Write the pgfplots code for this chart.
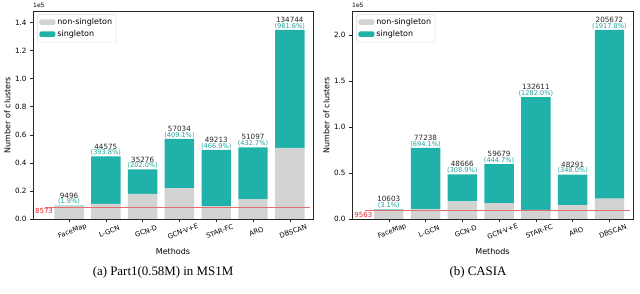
\documentclass[border=0pt]{standalone}
\usepackage{pgfplots}
\pgfplotsset{compat=1.18}
\usepackage{fontspec}
\setmainfont{DejaVu Sans}
\newfontfamily\capfont{Liberation Serif}
\definecolor{sing}{HTML}{20B2AA}
\definecolor{nons}{HTML}{D3D3D3}
\definecolor{gtline}{HTML}{E07070}
\definecolor{gttext}{HTML}{E8202A}
\definecolor{pcttext}{HTML}{1FA29B}

\pgfplotstableread{
x non sing
0 9333 163
1 10815 33760
2 17959 17317
3 21962 35072
4 9186 40027
5 14002 37095
6 50591 84153
}\msdata
\pgfplotstableread{
x total pct
0 9496 1.9
1 44575 393.8
2 35276 202.0
3 57034 409.1
4 49213 466.9
5 51097 432.7
6 134744 981.6
}\mslab
\pgfplotstableread{
x non sing
0 10307 296
1 10861 66377
2 19126 29540
3 17152 42527
4 10013 122598
5 15012 33279
6 22273 183399
}\cadata
\pgfplotstableread{
x total pct
0 10603 3.1
1 77238 694.1
2 48666 308.9
3 59679 444.7
4 132611 1282.0
5 48291 348.0
6 205672 1917.8
}\calab

\pgfplotsset{
  base/.style={scale only axis, width=280pt, height=208pt,
    xmin=-0.98, xmax=6.63, ymin=0, clip=false, scaled y ticks=false, scaled x ticks=false},
  barax/.style={base, ybar stacked, bar width=0.8,
    axis line style={draw=black!85, line width=0.6pt},
    xtick={0,...,6},
    xticklabels={FaceMap,L-GCN,GCN-D,GCN-V+E,STAR-FC,ARO,DBSCAN},
    xticklabel style={font=\fontsize{6.8}{7}\selectfont, rotate=20, anchor=center, yshift=-10pt},
    yticklabel style={font=\fontsize{7.2}{8}\selectfont},
    tick align=outside, major tick length=3pt,
    tick style={black!85, line width=0.5pt},
    xtick pos=bottom, ytick pos=left,
    xlabel={Methods}, ylabel={Number of clusters},
    xlabel style={font=\fontsize{8}{9}\selectfont, at={(axis description cs:0.5,-0.125)}, anchor=north},
    ylabel style={font=\fontsize{8}{9}\selectfont, at={(axis description cs:-0.068,0.5)}, anchor=south},
    legend style={at={(0.015,0.985)}, anchor=north west, draw=black!15, rounded corners=1.5pt,
      font=\fontsize{8}{9}\selectfont, inner sep=2pt, row sep=0.5pt},
    legend cell align=left,
    legend image code/.code={\fill[##1] (0pt,-2.8pt) rectangle (16pt,2.8pt);},
  },
  labax/.style={base, hide axis},
  totlab/.style={draw=none, nodes near coords, point meta=explicit symbolic,
    nodes near coords style={anchor=south, font=\fontsize{7.2}{8}\selectfont, text=black!85, yshift=6.2pt, inner sep=0.8pt}},
  pctlab/.style={draw=none, nodes near coords={(\pgfplotspointmeta\%)}, point meta=explicit symbolic,
    nodes near coords style={anchor=south, font=\fontsize{6.6}{7}\selectfont, text=pcttext, inner sep=0.8pt}},
}

\begin{document}
\begin{tikzpicture}
\path[use as bounding box] (0pt,0pt) rectangle (640pt,294pt);

% ---------- (a) MS1M ----------
\begin{axis}[barax, at={(33pt,75pt)}, ymax=148218,
  ytick={0,20000,40000,60000,80000,100000,120000,140000},
  yticklabels={0.0,0.2,0.4,0.6,0.8,1.0,1.2,1.4}]
\addplot[fill=nons, draw=none] table[x=x, y=non] {\msdata};
\addlegendentry{non-singleton}
\addplot[fill=sing, draw=none] table[x=x, y=sing] {\msdata};
\addlegendentry{singleton}
\node[anchor=base west, font=\fontsize{6}{7}\selectfont, inner sep=0pt] at (rel axis cs:0,1) [yshift=3.5pt] {1e5};
\end{axis}
\begin{axis}[labax, at={(33pt,75pt)}, ymax=148218]
\addplot[gtline, line width=0.7pt] coordinates {(-0.65,8573) (6.55,8573)};
\addplot[draw=none, nodes near coords, point meta=explicit symbolic,
  nodes near coords style={anchor=north, font=\fontsize{7}{8}\selectfont, text=gttext, inner sep=1.5pt}]
  coordinates {(-0.68,8573) [8573]};
\addplot[totlab] table[x=x, y=total, meta=total] {\mslab};
\addplot[pctlab] table[x=x, y=total, meta=pct] {\mslab};
\end{axis}

% ---------- (b) CASIA ----------
\begin{axis}[barax, at={(352pt,75pt)}, width=281pt, xmin=-1.0, xmax=6.64, ymax=226239,
  ytick={0,50000,100000,150000,200000},
  yticklabels={0.0,0.5,1.0,1.5,2.0}]
\addplot[fill=nons, draw=none] table[x=x, y=non] {\cadata};
\addlegendentry{non-singleton}
\addplot[fill=sing, draw=none] table[x=x, y=sing] {\cadata};
\addlegendentry{singleton}
\node[anchor=base west, font=\fontsize{6}{7}\selectfont, inner sep=0pt] at (rel axis cs:0,1) [yshift=3.5pt] {1e5};
\end{axis}
\begin{axis}[labax, at={(352pt,75pt)}, width=281pt, xmin=-1.0, xmax=6.64, ymax=226239]
\addplot[gtline, line width=0.7pt] coordinates {(-0.65,9563) (6.55,9563)};
\addplot[draw=none, nodes near coords, point meta=explicit symbolic,
  nodes near coords style={anchor=north, font=\fontsize{7}{8}\selectfont, text=gttext, inner sep=1.5pt}]
  coordinates {(-0.69,9563) [9563]};
\addplot[totlab] table[x=x, y=total, meta=total] {\calab};
\addplot[pctlab] table[x=x, y=total, meta=pct] {\calab};
\end{axis}

% captions
\node[font=\capfont\fontsize{12.9}{14}\selectfont, anchor=base] at (163pt,18pt) {(a) Part1(0.58M) in MS1M};
\node[font=\capfont\fontsize{12.9}{14}\selectfont, anchor=base] at (478pt,18pt) {(b) CASIA};
\end{tikzpicture}
\end{document}
